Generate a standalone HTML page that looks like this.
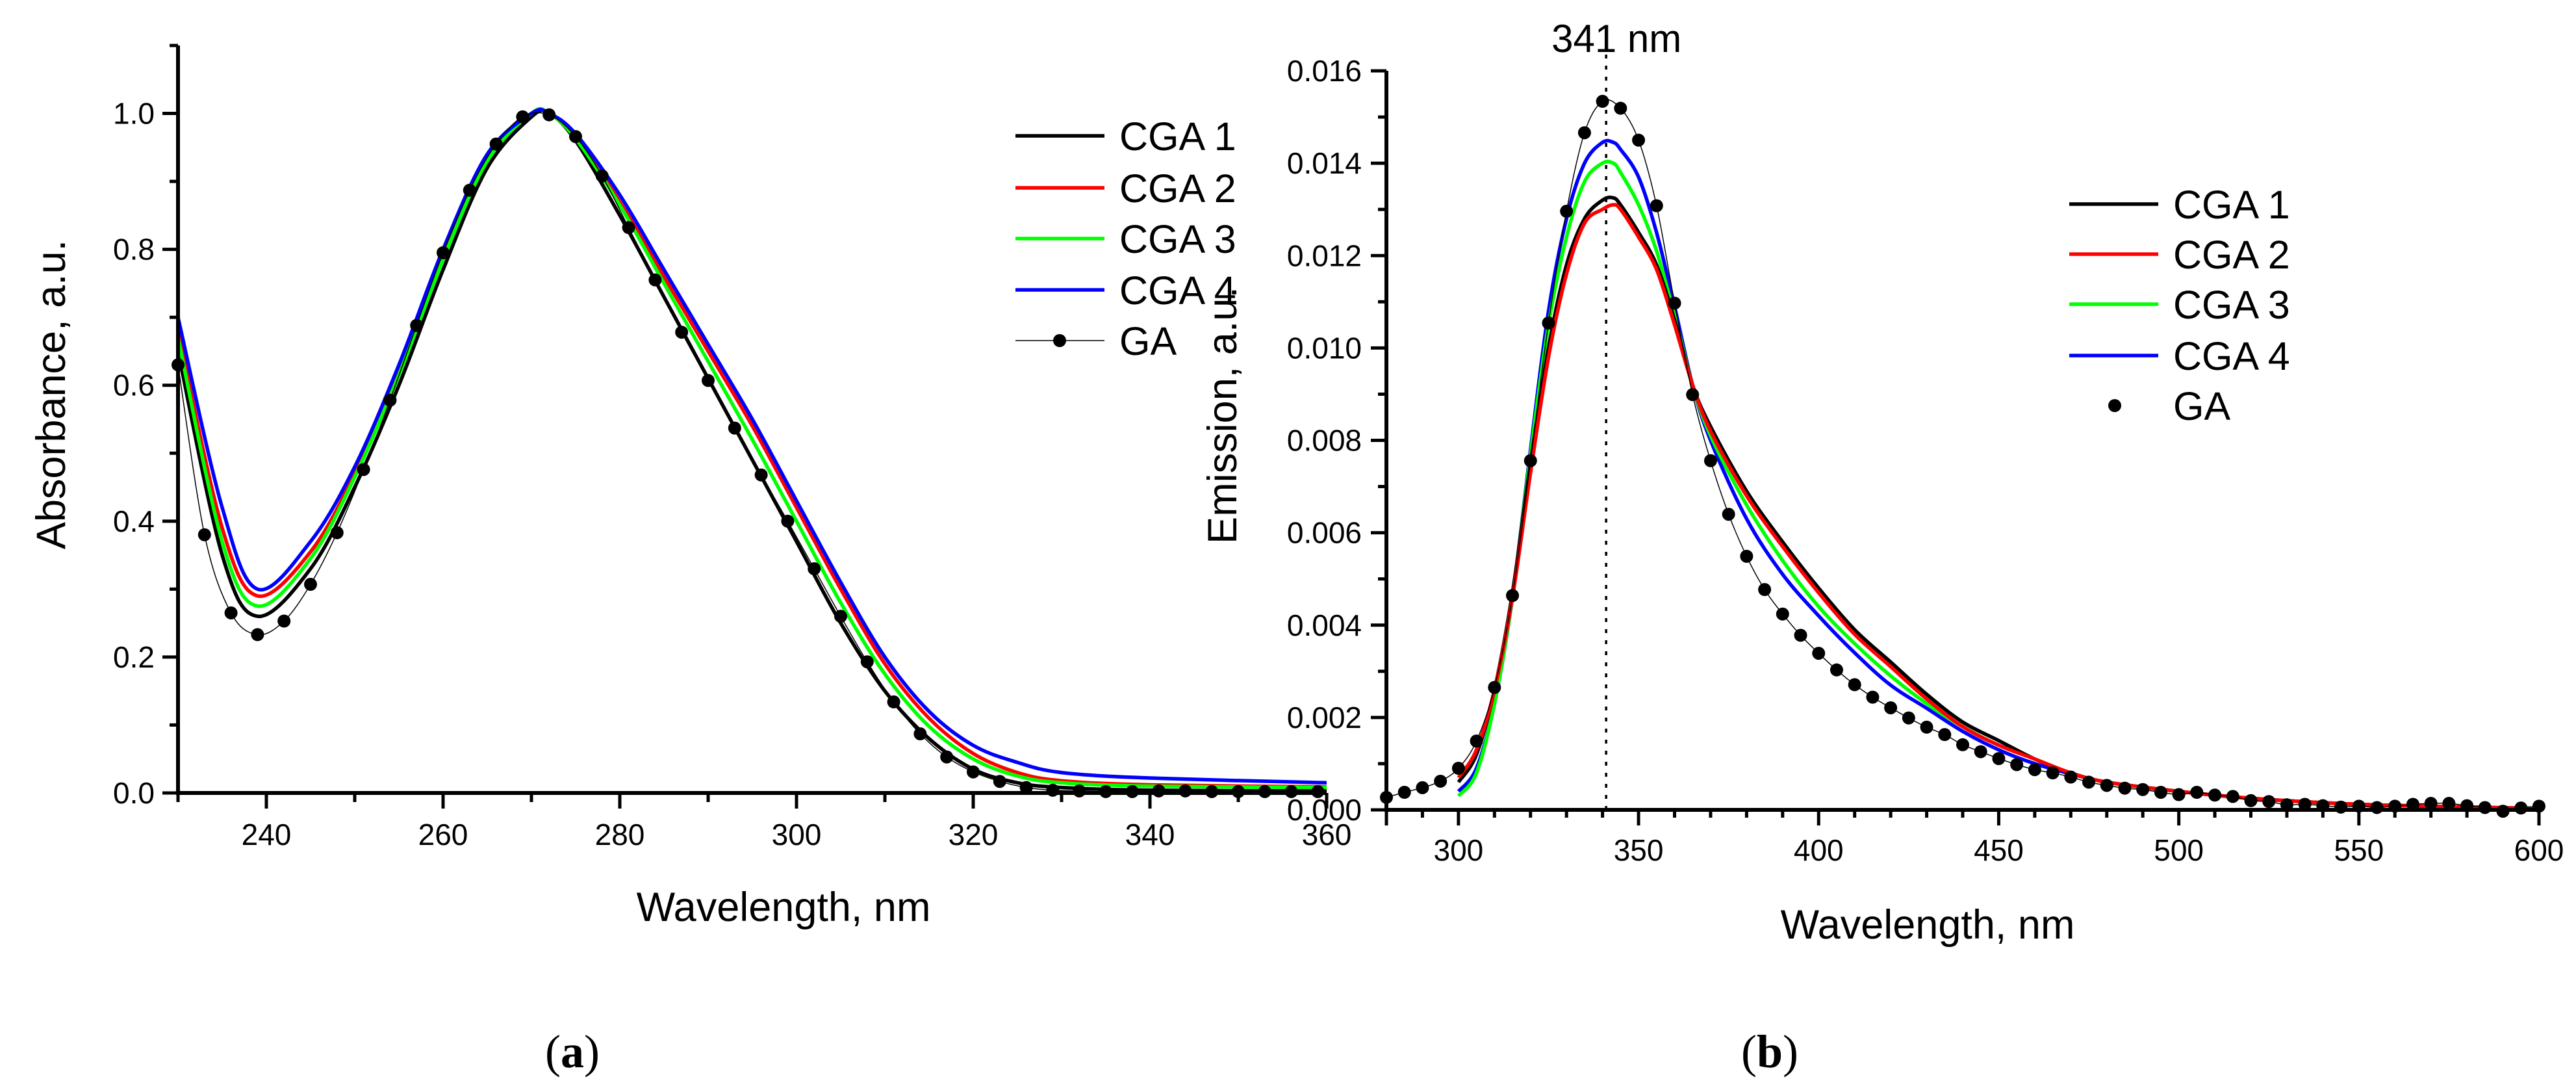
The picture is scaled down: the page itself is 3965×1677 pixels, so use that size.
<!DOCTYPE html>
<html><head><meta charset="utf-8"><style>
html,body{margin:0;padding:0;background:#fff;}
svg{display:block;font-family:"Liberation Sans",sans-serif;}
</style></head><body>
<svg id="fig" width="3965" height="1677" viewBox="0 0 3965 1677" xmlns="http://www.w3.org/2000/svg">
<defs>
<clipPath id="clipA"><rect x="274" y="40" width="1768" height="1180"/></clipPath>
<clipPath id="clipB"><rect x="2134" y="60" width="1800" height="1186"/></clipPath>
</defs>
<g id="panelA"></g>
<g id="panelB"></g>
<text x="881" y="1642" font-family="Liberation Serif,serif" font-size="72" text-anchor="middle">(<tspan font-weight="bold">a</tspan>)</text>
<text x="2724" y="1642" font-family="Liberation Serif,serif" font-size="72" text-anchor="middle">(<tspan font-weight="bold">b</tspan>)</text>
</svg>
<script>
// ---------- Panel A data ----------
const aWlCGA = [230,235,239,245,250,255,260,265,270,272,275,280,285,290,295,300,305,310,315,320,325,330,340,360];
const aCGA1 = [0.65,0.35,0.26,0.33,0.45,0.60,0.77,0.92,0.995,1.0,0.96,0.85,0.73,0.61,0.49,0.37,0.25,0.15,0.08,0.035,0.015,0.008,0.004,0.003];
const aCGA2 = [0.68,0.39,0.29,0.355,0.47,0.62,0.79,0.935,1.0,1.0,0.965,0.87,0.76,0.65,0.54,0.42,0.30,0.19,0.11,0.058,0.03,0.018,0.012,0.009];
const aCGA3 = [0.67,0.37,0.275,0.345,0.465,0.615,0.785,0.93,1.0,1.0,0.963,0.865,0.75,0.635,0.52,0.40,0.28,0.175,0.098,0.05,0.025,0.015,0.01,0.008];
const aCGA4 = [0.70,0.42,0.30,0.37,0.48,0.63,0.80,0.94,1.0,1.0,0.97,0.88,0.77,0.66,0.55,0.43,0.31,0.20,0.12,0.07,0.045,0.03,0.022,0.015];
const aWlGA = [230,233,236,239,242,245,248,251,254,257,260,263,266,269,272,275,278,281,284,287,290,293,296,299,302,305,308,311,314,317,320,323,326,329,332,335,338,341,344,347,350,353,356,359];
const aGA = [0.63,0.38,0.265,0.233,0.253,0.307,0.383,0.476,0.578,0.688,0.795,0.887,0.955,0.995,0.998,0.966,0.908,0.832,0.755,0.678,0.607,0.537,0.468,0.40,0.33,0.26,0.193,0.134,0.087,0.053,0.031,0.017,0.008,0.004,0.003,0.002,0.002,0.003,0.003,0.002,0.002,0.002,0.002,0.002];
const aXTicks = [240,260,280,300,320,340,360];
const aYTicks = [0.0,0.2,0.4,0.6,0.8,1.0];
// ---------- Panel B data ----------
const bWl = [300,305,310,315,320,325,330,335,340,343,345,350,355,360,365,370,380,390,400,410,420,430,440,450,460,470,480,500,520,550,580,600];
const bCGA1 = [0.0006,0.0012,0.0026,0.0047,0.0075,0.0100,0.0118,0.0128,0.0132,0.01325,0.0131,0.0125,0.0118,0.0106,0.0092,0.0083,0.0069,0.0058,0.0048,0.0039,0.0032,0.0025,0.0019,0.0015,0.0011,0.0008,0.0006,0.0004,0.00025,0.00012,0.00006,0.00003];
const bCGA2 = [0.0007,0.0013,0.0026,0.0046,0.0073,0.0098,0.0116,0.0127,0.0130,0.0131,0.0130,0.0124,0.0117,0.0105,0.0092,0.0082,0.0068,0.0057,0.0047,0.0038,0.0031,0.0024,0.0018,0.0014,0.0011,0.0008,0.0006,0.0004,0.00025,0.00012,0.00006,0.00003];
const bCGA3 = [0.0003,0.0008,0.0023,0.0046,0.0077,0.0105,0.0124,0.0136,0.0140,0.0140,0.0138,0.0131,0.0121,0.0107,0.0092,0.0081,0.0066,0.0054,0.0044,0.0036,0.0029,0.0023,0.0018,0.0014,0.0011,0.0008,0.0006,0.0004,0.00025,0.00012,0.00006,0.00003];
const bCGA4 = [0.0004,0.0009,0.0023,0.0046,0.0078,0.0108,0.0128,0.0140,0.01445,0.01445,0.0143,0.0137,0.0125,0.0109,0.0092,0.0080,0.0063,0.0051,0.0042,0.0034,0.0027,0.0022,0.0017,0.0013,0.0010,0.00078,0.0006,0.0004,0.00025,0.00012,0.00006,0.00003];
const bWlGA = [280,285,290,295,300,305,310,315,320,325,330,335,340,345,350,355,360,365,370,375,380,385,390,395,400,405,410,415,420,425,430,435,440,445,450,455,460,465,470,475,480,485,490,495,500,505,510,515,520,525,530,535,540,545,550,555,560,565,570,575,580,585,590,595,600];
const bGA = [0.00027,0.00038,0.00048,0.00062,0.0009,0.00149,0.00265,0.00464,0.00756,0.01054,0.01296,0.01466,0.01534,0.01519,0.0145,0.01308,0.01097,0.00899,0.00756,0.0064,0.00549,0.00477,0.00424,0.00378,0.00339,0.00303,0.00271,0.00244,0.00221,0.00199,0.00179,0.00163,0.00141,0.00126,0.00111,0.00098,0.00087,0.0008,0.00071,0.0006,0.00053,0.00047,0.00044,0.00038,0.00033,0.00038,0.00032,0.00029,0.0002,0.00018,0.00011,0.00012,0.00009,0.00006,0.00008,0.00005,0.00008,0.00012,0.00014,0.00014,0.00009,0.00005,-0.00003,0.00004,0.00008];
const bXTicks = [300,350,400,450,500,550,600];
const bYTicks = [0.000,0.002,0.004,0.006,0.008,0.010,0.012,0.014,0.016];
const bPeak = [341];

const NS="http://www.w3.org/2000/svg";
function mk(parent,tag,attrs){const e=document.createElementNS(NS,tag);for(const k in attrs)e.setAttribute(k,attrs[k]);parent.appendChild(e);return e;}
function smooth(pts){let d="M"+pts[0][0].toFixed(1)+","+pts[0][1].toFixed(1);
 for(let i=0;i<pts.length-1;i++){const p0=pts[Math.max(0,i-1)],p1=pts[i],p2=pts[i+1],p3=pts[Math.min(pts.length-1,i+2)];
  const c1x=p1[0]+(p2[0]-p0[0])/6,c1y=p1[1]+(p2[1]-p0[1])/6,c2x=p2[0]-(p3[0]-p1[0])/6,c2y=p2[1]-(p3[1]-p1[1])/6;
  d+=" C"+c1x.toFixed(1)+","+c1y.toFixed(1)+" "+c2x.toFixed(1)+","+c2y.toFixed(1)+" "+p2[0].toFixed(1)+","+p2[1].toFixed(1);}
 return d;}
const colors={c1:"#000",c2:"#ff0000",c3:"#00ff00",c4:"#0000ff"};

// ===== Panel A =====
(function(){
const g=document.getElementById('panelA');
const x0=274,x1=2042,yb=1220,yt=70;
const xA=v=>x0+(v-230)*(x1-x0)/130;
const yA=v=>yb-v*(yb-yt)/1.1;
const cg=mk(g,'g',{'clip-path':'url(#clipA)'});
const series=[[aCGA1,colors.c1,'cga1-line'],[aCGA2,colors.c2,'cga2-line'],[aCGA3,colors.c3,'cga3-line'],[aCGA4,colors.c4,'cga4-line']];
series.forEach(s=>{const p=mk(cg,'path',{d:smooth(aWlCGA.map((w,i)=>[xA(w),yA(s[0][i])])),fill:'none',stroke:s[1],'stroke-width':5.5});

});
const gl=mk(cg,'path',{d:smooth(aWlGA.map((w,i)=>[xA(w),yA(aGA[i])])),fill:'none',stroke:'#000','stroke-width':1.5});


aWlGA.forEach((w,i)=>{const c=mk(g,'circle',{cx:xA(w),cy:yA(aGA[i]),r:10,fill:'#000'});

});
const ax=mk(g,'line',{x1:x0,y1:yb,x2:x1,y2:yb,stroke:'#000','stroke-width':6});


const ay=mk(g,'line',{x1:x0,y1:yb+3,x2:x0,y2:yt,stroke:'#000','stroke-width':6});


for(let v=230;v<=360;v+=10){const maj=(v%20===0);mk(g,'line',{x1:xA(v),y1:yb,x2:xA(v),y2:yb+(maj?24:14),stroke:'#000','stroke-width':5});}
aXTicks.forEach(v=>{const t=mk(g,'text',{x:xA(v),y:1300,'font-size':46,'text-anchor':'middle'});t.textContent=v;

});
for(let k=0;k<=11;k++){const v=k*0.1;mk(g,'line',{x1:x0,y1:yA(v),x2:x0-(k%2===0?24:13),y2:yA(v),stroke:'#000','stroke-width':5});}
aYTicks.forEach(v=>{const t=mk(g,'text',{x:238,y:yA(v)+16,'font-size':46,'text-anchor':'end'});t.textContent=v.toFixed(1);

});
const xt=mk(g,'text',{x:1206,y:1417,'font-size':63,'text-anchor':'middle'});xt.textContent='Wavelength, nm';


const yt2=mk(g,'text',{x:0,y:0,'font-size':63,'text-anchor':'middle',transform:'translate(100,607) rotate(-90)'});yt2.textContent='Absorbance, a.u.';


const leg=mk(g,'g',{});


const names=['CGA 1','CGA 2','CGA 3','CGA 4','GA'];const cols=[colors.c1,colors.c2,colors.c3,colors.c4,'#000'];const ys=[209,289,367,446,524];
names.forEach((n,i)=>{const e=mk(leg,'g',{});


if(i<4)mk(e,'line',{x1:1563,y1:ys[i],x2:1700,y2:ys[i],stroke:cols[i],'stroke-width':5.5});
else{mk(e,'line',{x1:1563,y1:ys[i],x2:1700,y2:ys[i],stroke:'#000','stroke-width':1.5});mk(e,'circle',{cx:1631,cy:ys[i],r:10,fill:'#000'});}
const t=mk(e,'text',{x:1723,y:ys[i]+22,'font-size':61});t.textContent=n;});
})();

// ===== Panel B =====
(function(){
const g=document.getElementById('panelB');
const x0=2134,x1=3908,yb=1246,yt=109;
const xB=v=>x0+(v-280)*(x1-x0)/320;
const yB=v=>yb-v*(yb-yt)/0.016;
const cg=mk(g,'g',{'clip-path':'url(#clipB)'});
const dl=mk(g,'line',{x1:xB(bPeak[0]),y1:yb,x2:xB(bPeak[0]),y2:82,stroke:'#000','stroke-width':3.5,'stroke-dasharray':'6,11'});


const pl=mk(g,'text',{x:xB(bPeak[0])+16,y:80,'font-size':60,'text-anchor':'middle'});pl.textContent=bPeak[0]+' nm';


const series=[[bCGA4,colors.c4,'cga4-line'],[bCGA3,colors.c3,'cga3-line'],[bCGA1,colors.c1,'cga1-line'],[bCGA2,colors.c2,'cga2-line']];
series.forEach(s=>{const p=mk(cg,'path',{d:smooth(bWl.map((w,i)=>[xB(w),yB(s[0][i])])),fill:'none',stroke:s[1],'stroke-width':5.5});

});
const gl=mk(cg,'path',{d:smooth(bWlGA.map((w,i)=>[xB(w),yB(bGA[i])])),fill:'none',stroke:'#000','stroke-width':1.5});


bWlGA.forEach((w,i)=>{const c=mk(g,'circle',{cx:xB(w),cy:yB(bGA[i]),r:10,fill:'#000'});

});
const ax=mk(g,'line',{x1:x0-3,y1:yb,x2:x1+3,y2:yb,stroke:'#000','stroke-width':6});


const ay=mk(g,'line',{x1:x0,y1:yb+3,x2:x0,y2:yt,stroke:'#000','stroke-width':6});


for(let v=280;v<=600;v+=10){const maj=(v%50===0);mk(g,'line',{x1:xB(v),y1:yb,x2:xB(v),y2:yb+(maj||v===280?24:12),stroke:'#000','stroke-width':5});}
bXTicks.forEach(v=>{const t=mk(g,'text',{x:xB(v),y:1324,'font-size':46,'text-anchor':'middle'});t.textContent=v;

});
for(let k=0;k<=16;k++){const v=k*0.001;mk(g,'line',{x1:x0,y1:yB(v),x2:x0-(k%2===0?24:13),y2:yB(v),stroke:'#000','stroke-width':5});}
bYTicks.forEach(v=>{const t=mk(g,'text',{x:2096,y:yB(v)+16,'font-size':46,'text-anchor':'end'});t.textContent=v.toFixed(3);

});
const xt=mk(g,'text',{x:2967,y:1444,'font-size':63,'text-anchor':'middle'});xt.textContent='Wavelength, nm';


const yt2=mk(g,'text',{x:0,y:0,'font-size':63,'text-anchor':'middle',transform:'translate(1903,639) rotate(-90)'});yt2.textContent='Emission, a.u.';


const leg=mk(g,'g',{});


const names=['CGA 1','CGA 2','CGA 3','CGA 4','GA'];const cols=[colors.c1,colors.c2,colors.c3,colors.c4,'#000'];const ys=[314,391,468,547,624];
names.forEach((n,i)=>{const e=mk(leg,'g',{});


if(i<4)mk(e,'line',{x1:3185,y1:ys[i],x2:3322,y2:ys[i],stroke:cols[i],'stroke-width':5.5});
else mk(e,'circle',{cx:3255,cy:ys[i],r:10,fill:'#000'});
const t=mk(e,'text',{x:3345,y:ys[i]+22,'font-size':61});t.textContent=n;});
})();
</script>
</body></html>
